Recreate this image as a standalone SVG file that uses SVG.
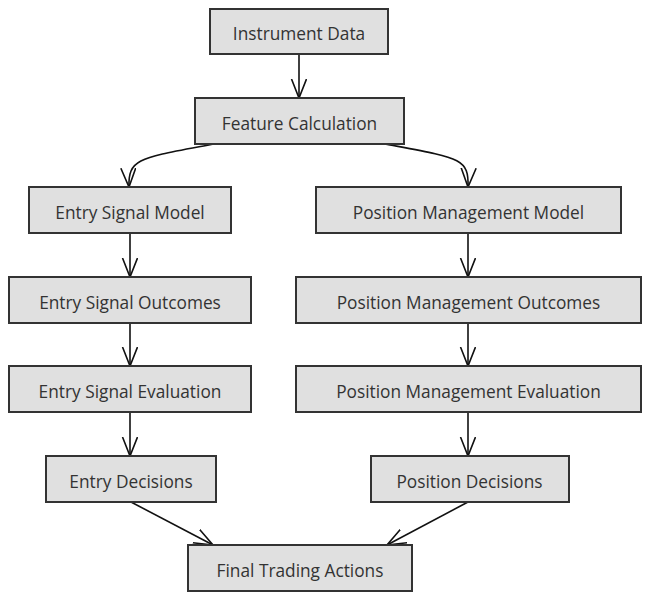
<svg xmlns="http://www.w3.org/2000/svg" width="651" height="600" viewBox="0 0 651 600">
<defs>
<marker id="arr" markerWidth="22" markerHeight="20" refX="19" refY="8" orient="auto" markerUnits="userSpaceOnUse">
<path d="M0,0.5 L19,8 L0,15.5" fill="none" stroke="#111" stroke-width="1.6"/>
</marker>
<style>
.box{fill:#e0e0e0;stroke:#333;stroke-width:2}
.lbl{font-family:"Open Sans","Noto Sans",sans-serif;font-size:17.3px;fill:#333;text-anchor:middle;dominant-baseline:central}
.edge{fill:none;stroke:#111;stroke-width:1.6;marker-end:url(#arr)}
</style>
</defs>
<rect width="651" height="600" fill="#fff"/>
<g id="connectors">
<path class="edge" d="M299,54 L299,98"/>
<path class="edge" d="M214,144 C140,158 128,158 129,187"/>
<path class="edge" d="M385,144 C460,158 469,158 468,187"/>
<path class="edge" d="M130,233 L130,277"/>
<path class="edge" d="M130,323 L130,366"/>
<path class="edge" d="M130,412 L130,456"/>
<path class="edge" d="M468,233 L468,277"/>
<path class="edge" d="M468,323 L468,366"/>
<path class="edge" d="M468,412 L468,456"/>
<path class="edge" d="M131,502 L213,545"/>
<path class="edge" d="M468,502 L387,545"/>
</g>
<g id="instrument-data"><rect class="box" x="210" y="9" width="178" height="45"/><text class="lbl" x="299" y="33.5">Instrument Data</text></g>
<g id="feature-calculation"><rect class="box" x="195" y="98" width="209" height="46"/><text class="lbl" x="299.5" y="123">Feature Calculation</text></g>
<g id="entry-signal-model"><rect class="box" x="29" y="187" width="202" height="46"/><text class="lbl" x="130" y="212">Entry Signal Model</text></g>
<g id="position-management-model"><rect class="box" x="316" y="187" width="305" height="46"/><text class="lbl" x="468.5" y="212">Position Management Model</text></g>
<g id="entry-signal-outcomes"><rect class="box" x="9" y="277" width="242" height="46"/><text class="lbl" x="130" y="302">Entry Signal Outcomes</text></g>
<g id="position-management-outcomes"><rect class="box" x="296" y="277" width="345" height="46"/><text class="lbl" x="468.5" y="302">Position Management Outcomes</text></g>
<g id="entry-signal-evaluation"><rect class="box" x="9" y="366" width="242" height="46"/><text class="lbl" x="130" y="391">Entry Signal Evaluation</text></g>
<g id="position-management-evaluation"><rect class="box" x="296" y="366" width="345" height="46"/><text class="lbl" x="468.5" y="391">Position Management Evaluation</text></g>
<g id="entry-decisions"><rect class="box" x="46" y="456" width="170" height="46"/><text class="lbl" x="131" y="481">Entry Decisions</text></g>
<g id="position-decisions"><rect class="box" x="371" y="456" width="198" height="46"/><text class="lbl" x="469.5" y="481">Position Decisions</text></g>
<g id="final-trading-actions"><rect class="box" x="188" y="545" width="224" height="46"/><text class="lbl" x="300" y="570">Final Trading Actions</text></g>
</svg>
